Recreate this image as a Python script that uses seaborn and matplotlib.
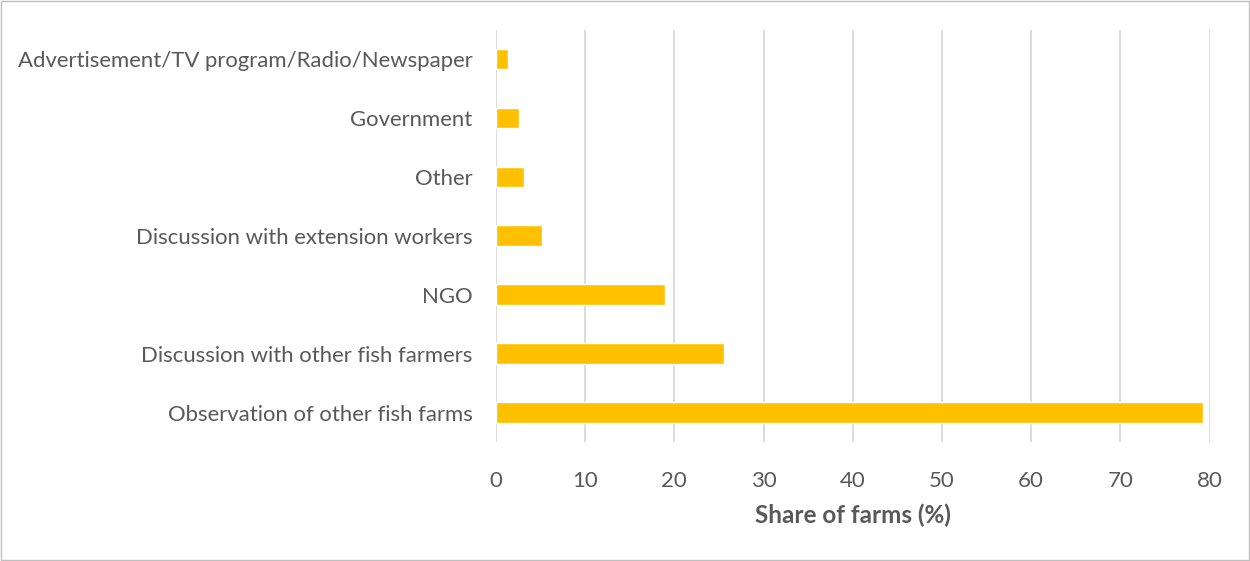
import matplotlib
matplotlib.use("Agg")
import matplotlib.pyplot as plt
import seaborn as sns
import pandas as pd

sources = [
    "Advertisement/TV program/Radio/Newspaper",
    "Government",
    "Other",
    "Discussion with extension workers",
    "NGO",
    "Discussion with other fish farmers",
    "Observation of other fish farms",
]
share = [1.3, 2.6, 3.1, 5.2, 19.0, 25.6, 79.3]
x_ticks = [0, 10, 20, 30, 40, 50, 60, 70, 80]

df = pd.DataFrame({"source": sources, "share": share})

sns.set_theme(style="white")
plt.rcParams["font.family"] = ["Lato", "DejaVu Sans"]

fig = plt.figure(figsize=(12.5, 5.61), dpi=100)
ax = fig.add_axes([496 / 1250, 1 - 442 / 561, (1209.5 - 496) / 1250, (442 - 29.5) / 561])

sns.barplot(data=df, x="share", y="source", order=sources, color="#FFC000",
            saturation=1, width=0.35, ax=ax, zorder=3)

ax.set_xlim(0, 80)
ax.set_xticks(x_ticks)
ax.xaxis.grid(True, color="#D9D9D9", linewidth=1.3, zorder=0)
ax.set_axisbelow(True)
for s in ax.spines.values():
    s.set_visible(False)
ax.tick_params(axis="both", length=0, colors="#595959")
ax.tick_params(axis="x", pad=21, labelsize=16)
ax.tick_params(axis="y", pad=17, labelsize=15.9)
ax.set_ylabel("")
ax.set_xlabel("Share of farms (%)", fontsize=17.5, fontweight="bold", color="#595959", labelpad=9)

# thin frame around the whole figure
fig.patches.append(plt.Rectangle((0.0008, 0.0015), 0.9984, 0.997, transform=fig.transFigure,
                                 fill=False, edgecolor="#BFBFBF", linewidth=1))

fig.savefig("out.png", dpi=100)
